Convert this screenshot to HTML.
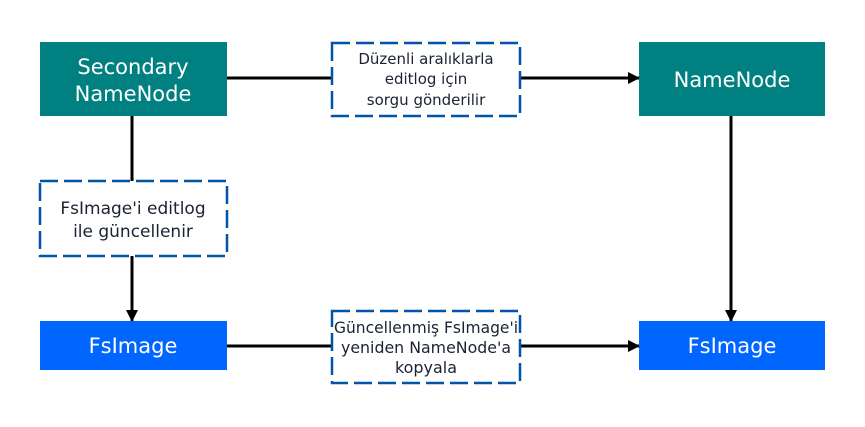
<!DOCTYPE html>
<html><head><meta charset="utf-8"><style>
body{margin:0;background:#fff;}
svg{display:block;font-family:"DejaVu Sans","Liberation Sans",sans-serif;}
</style></head><body>
<svg width="865" height="427" viewBox="0 0 865 427">
<defs><marker id="a" markerWidth="12" markerHeight="12" refX="11" refY="6" orient="auto" markerUnits="userSpaceOnUse"><path d="M0,0 L12,6 L0,12 z" fill="#000"/></marker></defs>
<g stroke="#000" stroke-width="3" fill="none">
<line x1="227" y1="78" x2="332" y2="78"/>
<line x1="520" y1="78" x2="639" y2="78" marker-end="url(#a)"/>
<line x1="132" y1="116" x2="132" y2="181"/>
<line x1="132" y1="256" x2="132" y2="321" marker-end="url(#a)"/>
<line x1="731" y1="116" x2="731" y2="321" marker-end="url(#a)"/>
<line x1="227" y1="346" x2="332" y2="346"/>
<line x1="520" y1="346" x2="639" y2="346" marker-end="url(#a)"/>
</g>
<rect x="40" y="42" width="187" height="74" fill="#008080"/>
<rect x="639" y="42" width="186" height="74" fill="#008080"/>
<rect x="40" y="321" width="187" height="49" fill="#0066ff"/>
<rect x="639" y="321" width="186" height="49" fill="#0066ff"/>
<g fill="#fff" stroke="#0055aa" stroke-width="2.5" stroke-dasharray="18,6">
<rect x="332" y="43" width="188" height="73"/>
<rect x="40" y="181" width="187" height="75"/>
<rect x="332" y="311" width="188" height="72"/>
</g>
<g fill="#fff" font-size="21" text-anchor="middle">
<text x="133" y="74">Secondary</text>
<text x="133" y="101">NameNode</text>
<text x="732" y="87">NameNode</text>
<text x="133" y="353">FsImage</text>
<text x="732" y="353">FsImage</text>
</g>
<g fill="#1a2233" text-anchor="middle">
<text x="426" y="64" font-size="15">Düzenli aralıklarla</text>
<text x="426" y="84" font-size="15">editlog için</text>
<text x="426" y="105" font-size="15">sorgu gönderilir</text>
<text x="133" y="214" font-size="17">FsImage'i editlog</text>
<text x="133" y="237" font-size="17">ile güncellenir</text>
<text x="426" y="333" font-size="16" textLength="184" lengthAdjust="spacingAndGlyphs">Güncellenmiş FsImage'i</text>
<text x="426" y="353" font-size="16" textLength="170" lengthAdjust="spacingAndGlyphs">yeniden NameNode'a</text>
<text x="426" y="373" font-size="16" textLength="62" lengthAdjust="spacingAndGlyphs">kopyala</text>
</g>
</svg>
</body></html>
